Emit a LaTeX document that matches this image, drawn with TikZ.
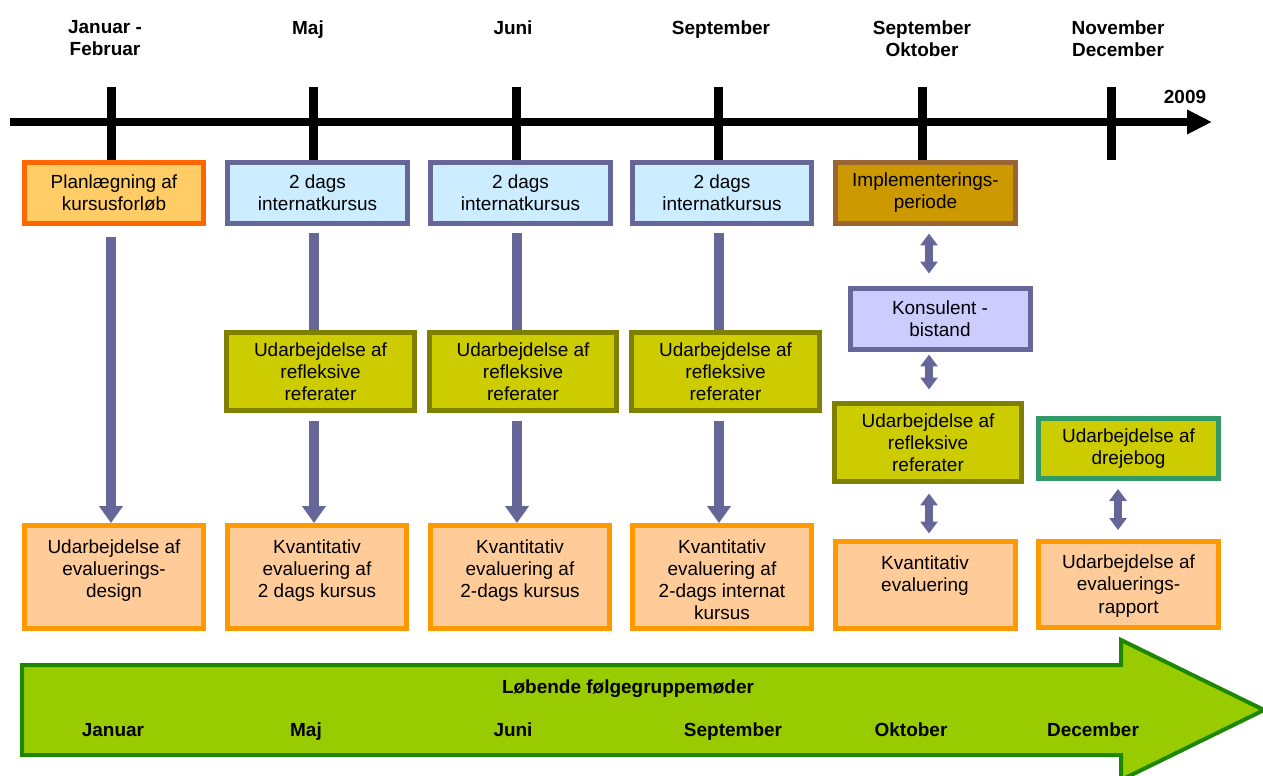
\documentclass[tikz,border=0pt]{standalone}
\usepackage{fontspec}
\setmainfont{Liberation Sans}
\usetikzlibrary{arrows.meta,positioning}
\definecolor{planorange}{HTML}{FF6600}
\definecolor{planfill}{HTML}{FFCC66}
\definecolor{courseblue}{HTML}{666699}
\definecolor{coursefill}{HTML}{CCECFF}
\definecolor{implbrown}{HTML}{996633}
\definecolor{implfill}{HTML}{CC9900}
\definecolor{konsfill}{HTML}{CCCCFF}
\definecolor{refolive}{HTML}{808000}
\definecolor{reffill}{HTML}{CCCC00}
\definecolor{bookgreen}{HTML}{339966}
\definecolor{evalorange}{HTML}{FF9900}
\definecolor{evalfill}{HTML}{FFCC99}
\definecolor{arrowblue}{HTML}{666699}
\definecolor{meetgreen}{HTML}{1E8700}
\definecolor{meetfill}{HTML}{99CC00}

\newcommand{\toptext}[2]{\parbox[c][#1][t]{3.5cm}{\centering #2}}

\begin{document}
\begin{tikzpicture}[x=0.02cm, y=-0.02cm,
  font=\fontsize{10.8}{12.6}\selectfont,
  box/.style={draw, line width=0.1cm, align=center, inner sep=0pt},
  topbox/.style={box, minimum width=3.6cm, minimum height=1.22cm},
  refbox/.style={box, draw=refolive, fill=reffill, minimum width=3.76cm, minimum height=1.56cm},
  evalbox/.style={box, draw=evalorange, fill=evalfill, minimum width=3.6cm, inner ysep=0.28cm},
  monthhead/.style={font=\bfseries\fontsize{10.8}{12.6}\selectfont, align=center, anchor=north, inner sep=0pt},
  meetlabel/.style={font=\bfseries\fontsize{10.8}{12.6}\selectfont, anchor=base, inner sep=0pt},
  flow/.style={draw=arrowblue, line width=0.2cm, -{Triangle[width=0.46cm,length=0.34cm]}},
  link/.style={draw=arrowblue, line width=0.2cm},
  twoway/.style={draw=arrowblue, line width=0.15cm, {Triangle[width=0.34cm,length=0.24cm]}-{Triangle[width=0.34cm,length=0.24cm]}},
  monthtick/.style={line width=0.18cm},
  timeaxis/.style={line width=0.16cm, -{Triangle[width=0.46cm,length=0.5cm]}}
]
\useasboundingbox (0,0) rectangle (1263,776);

% following group meetings
\draw[draw=meetgreen, fill=meetfill, line width=0.08cm]
  (22,665) -- (1121,665) -- (1121,640) -- (1264,710) -- (1121,780) -- (1121,755) -- (22,755) -- cycle;
\node[meetlabel] (meet) at (628,693) {Løbende følgegruppemøder};
\foreach \x/\m in {113/Januar, 306/Maj, 513/Juni, 733/September, 911/Oktober, 1093/December}
  \node[meetlabel] (m\m) at (\x,736) {\m};

% time axis
\draw[timeaxis] (10,122) -- (1212,122);
\foreach \x in {111,313,516,718,922,1111}
  \draw[monthtick] (\x,87) -- (\x,160);
\node[font=\bfseries\fontsize{10.8}{12.6}\selectfont, inner sep=0pt] (year) at (1185,97) {2009};

\node[monthhead] (h1) at (105,20) {Januar -\\Februar};
\node[monthhead] (h2) at (308,20) {Maj};
\node[monthhead] (h3) at (513,20) {Juni};
\node[monthhead] (h4) at (721,20) {September};
\node[monthhead] (h5) at (922,20) {September\\Oktober};
\node[monthhead] (h6) at (1118,20) {November\\December};

% first row
\node[topbox, draw=planorange, fill=planfill] (plan) at (114,193) {Planlægning af\\kursusforløb};
\node[topbox, draw=courseblue, fill=coursefill] (kurs2) at (317.5,193) {2 dags\\internatkursus};
\node[topbox, draw=courseblue, fill=coursefill] (kurs3) at (520.5,193) {2 dags\\internatkursus};
\node[topbox, draw=courseblue, fill=coursefill] (kurs4) at (722,193) {2 dags\\internatkursus};
\node[topbox, draw=implbrown, fill=implfill] (impl) at (925.5,193) {Implementerings-\\periode};
\node[topbox, draw=courseblue, fill=konsfill] (kons) at (940,319) {Konsulent -\\bistand};

% reports
\node[refbox] (ref2) at (320.5,371.5) {Udarbejdelse af\\refleksive\\referater};
\node[refbox] (ref3) at (523,371.5) {Udarbejdelse af\\refleksive\\referater};
\node[refbox] (ref4) at (725.5,371.5) {Udarbejdelse af\\refleksive\\referater};
\node[refbox] (ref5) at (928,442.5) {Udarbejdelse af\\refleksive\\referater};
\node[topbox, draw=bookgreen, fill=reffill] (drej) at (1128.5,448.5) {Udarbejdelse af\\drejebog};

% evaluation
\node[evalbox] (eval1) at (114,577) {\toptext{1.5cm}{Udarbejdelse af\\evaluerings-\\design}};
\node[evalbox] (eval2) at (317,577) {\toptext{1.5cm}{Kvantitativ\\evaluering af\\2 dags kursus}};
\node[evalbox] (eval3) at (520,577) {\toptext{1.5cm}{Kvantitativ\\evaluering af\\2-dags kursus}};
\node[evalbox] (eval4) at (722,577) {\toptext{1.5cm}{Kvantitativ\\evaluering af\\2-dags internat\\kursus}};
\node[evalbox] (eval5) at (925,585) {\toptext{1.18cm}{Kvantitativ\\evaluering}};
\node[evalbox] (eval6) at (1128.5,584.5) {\toptext{1.18cm}{Udarbejdelse af\\evaluerings-\\rapport}};

% connectors
\coordinate (c1) at (111,0);
\coordinate (c2) at (314,0);
\coordinate (c3) at (517,0);
\coordinate (c4) at (719,0);
\coordinate (c5) at (929,0);
\coordinate (c6) at (1118,0);
\draw[flow, shorten <=0.23cm] (plan.south -| c1) -- (eval1.north -| c1);
\draw[link, shorten <=0.15cm] (kurs2.south -| c2) -- (ref2.north -| c2);
\draw[link, shorten <=0.15cm] (kurs3.south -| c3) -- (ref3.north -| c3);
\draw[link, shorten <=0.15cm] (kurs4.south -| c4) -- (ref4.north -| c4);
\draw[flow, shorten <=0.17cm] (ref2.south -| c2) -- (eval2.north -| c2);
\draw[flow, shorten <=0.17cm] (ref3.south -| c3) -- (eval3.north -| c3);
\draw[flow, shorten <=0.17cm] (ref4.south -| c4) -- (eval4.north -| c4);
\draw[twoway, shorten <=0.15cm, shorten >=0.25cm] (impl.south -| c5) -- (kons.north -| c5);
\draw[twoway, shorten <=0.05cm, shorten >=0.23cm] (kons.south -| c5) -- (ref5.north -| c5);
\draw[twoway, shorten <=0.19cm, shorten >=0.11cm] (ref5.south -| c5) -- (eval5.north -| c5);
\draw[twoway, shorten <=0.15cm, shorten >=0.17cm] (drej.south -| c6) -- (eval6.north -| c6);
\end{tikzpicture}
\end{document}
